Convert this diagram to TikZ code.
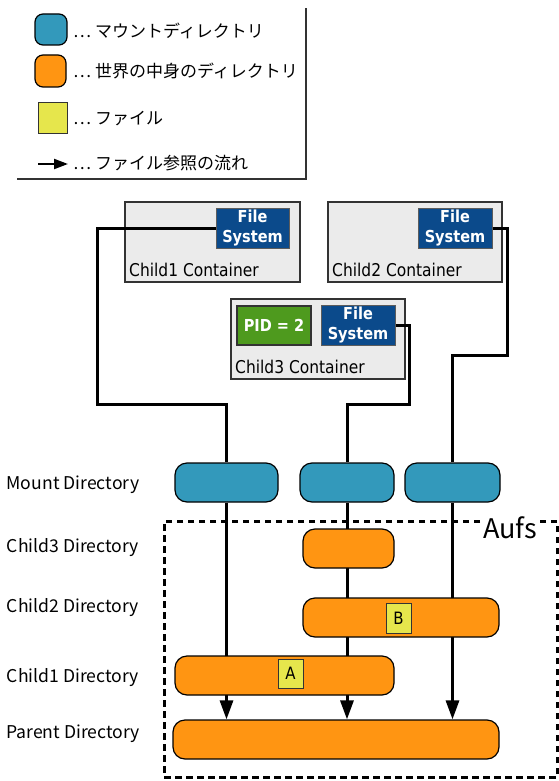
\documentclass[tikz,border=0pt]{standalone}
\usepackage{fontspec}
\setmainfont{Noto Sans CJK JP}
\newfontfamily\dvs[FakeStretch=0.88]{DejaVu Sans}
\usetikzlibrary{arrows.meta,backgrounds}
\definecolor{mblue}{HTML}{3399BB}
\definecolor{dorange}{HTML}{FF9512}
\definecolor{fyellow}{HTML}{E6E64C}
\definecolor{fsblue}{HTML}{0B4A8B}
\definecolor{pgreen}{HTML}{4E9A1E}
\definecolor{cgray}{HTML}{EBEBEB}
\definecolor{edge}{HTML}{333333}
\newcommand{\fstext}{\raisebox{-3pt}{\begin{tabular}{@{}c@{}}File\\System\end{tabular}}}
\begin{document}
\begin{tikzpicture}[x=1pt,y=-1pt,
  box/.style={draw=black, line width=1.2pt, inner sep=0pt, anchor=center},
  mount/.style={box, rounded corners=12pt, fill=mblue},
  dirbox/.style={box, rounded corners=12pt, fill=dorange},
  filebox/.style={box, draw=edge, line width=1pt, fill=fyellow, font=\dvs\fontsize{17}{17}\selectfont},
  cont/.style={draw=edge, line width=1.3pt, fill=cgray, inner sep=0pt},
  fsbox/.style={draw=edge!80, line width=1pt, fill=fsblue, text=white, inner sep=0pt,
     font=\dvs\bfseries\fontsize{16.5}{20}\selectfont},
  pidbox/.style={draw=edge, line width=1.2pt, fill=pgreen, text=white, inner sep=0pt,
     font=\dvs\bfseries\fontsize{16.5}{20}\selectfont},
  contlbl/.style={anchor=west, inner sep=0pt, font=\dvs\fontsize{17.6}{17.6}\selectfont},
  flow/.style={line width=3pt, -{Triangle[length=19pt,width=13pt]}},
  link/.style={line width=3pt},
  lbl/.style={font=\fontsize{17.6}{17.6}\selectfont},
  legtext/.style={anchor=west, inner sep=0pt, font=\fontsize{17}{17}\selectfont}]
\useasboundingbox (0,0) rectangle (558,781);

% legend
\node[mount, rounded corners=8pt, minimum width=32pt, minimum height=31pt] (lgb) at (51,29.5) {};
\node[dirbox, rounded corners=8pt, minimum width=31pt, minimum height=32pt] (lgo) at (50.5,71) {};
\node[filebox, minimum width=29pt, minimum height=30pt] (lgy) at (52.5,118) {};
\coordinate (la1) at (38,164);
\coordinate (la2) at (68,164);
\draw[line width=2.2pt, -{Triangle[length=14pt,width=10pt]}] (la1) -- (la2);
\node[legtext] (lt1) at (73,31) {… マウントディレクトリ};
\node[legtext] (lt2) at (73,71) {… 世界の中身のディレクトリ};
\node[legtext] (lt3) at (73,119) {… ファイル};
\node[legtext] (lt4) at (73,163) {… ファイル参照の流れ};
\coordinate (lb1) at (17,179);
\coordinate (lb2) at (306,179);
\coordinate (lb3) at (306,8);
\draw[line width=1.3pt, edge] (lb1) -- (lb2) -- (lb3);

% containers
\node[cont, minimum width=175pt, minimum height=80pt] (c1) at (212.5,242) {};
\node[fsbox, minimum width=73pt, minimum height=38pt] (fs1) at (252.5,228) {\fstext};
\node[contlbl] (c1l) at (129,270) {Child1 Container};
\node[cont, minimum width=174pt, minimum height=80pt] (c2) at (415,242) {};
\node[fsbox, minimum width=74pt, minimum height=38pt] (fs2) at (455,228) {\fstext};
\node[contlbl] (c2l) at (332,270) {Child2 Container};
\node[cont, minimum width=174pt, minimum height=80pt] (c3) at (318,339) {};
\node[pidbox, minimum width=74pt, minimum height=39pt] (pid) at (274,325.5) {PID = 2};
\node[fsbox, minimum width=74pt, minimum height=38pt] (fs3) at (358,325) {\fstext};
\node[contlbl] (c3l) at (235,367) {Child3 Container};

% mount directories
\node[mount, minimum width=103pt, minimum height=39pt] (m1) at (226.5,482.5) {};
\node[mount, minimum width=94pt, minimum height=39pt] (m2) at (347,482.5) {};
\node[mount, minimum width=95pt, minimum height=39pt] (m3) at (452.5,482.5) {};

% connectors from containers
\coordinate (t1) at (97,404);
\coordinate (t2) at (507,355);
\coordinate (t3) at (409,404);
\draw[link] (fs1.west) -| (t1) -| (m1.north);
\draw[link] (fs2.east) -| (t2) -| (m3.north);
\draw[link] (fs3.east) -| (t3) -| (m2.north);

% aufs box
\node[draw, line width=3pt, dash pattern=on 6.5pt off 4.5pt, inner sep=0pt,
      minimum width=393pt, minimum height=256pt] (aufs) at (360.5,649) {};
\node[fill=white, inner sep=2pt, font=\fontsize{27}{27}\selectfont] (aufsl) at (510,528) {Aufs};

% directories
\node[dirbox, minimum width=91pt, minimum height=39pt] (d3) at (348.5,548.5) {};
\node[dirbox, minimum width=196pt, minimum height=39pt] (d2) at (401,617.5) {};
\node[dirbox, minimum width=219pt, minimum height=39pt] (d1) at (284.5,675.5) {};
\node[dirbox, minimum width=326pt, minimum height=39pt] (pd) at (336,739.5) {};
\node[filebox, minimum width=25pt, minimum height=30pt] (fb) at (398.5,618) {B};
\node[filebox, minimum width=25pt, minimum height=29pt] (fa) at (290.5,673.5) {A};

% flows
\begin{scope}[on background layer]
\draw[flow] (m1.south) -- (m1.south |- pd.north);
\draw[flow] (m2.south) -- (m2.south |- pd.north);
\draw[flow] (m3.south) -- (m3.south |- pd.north);
\end{scope}

% row labels
\node[lbl] (lm) at (73,485) {Mount Directory};
\node[lbl] (l3) at (73,548) {Child3 Directory};
\node[lbl] (l2) at (73,608) {Child2 Directory};
\node[lbl] (l1) at (73,678) {Child1 Directory};
\node[lbl] (lp) at (73,734) {Parent Directory};
\end{tikzpicture}
\end{document}
